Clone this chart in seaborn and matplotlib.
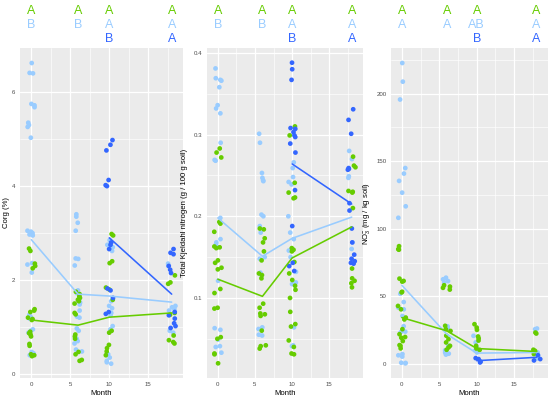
import numpy as np
import pandas as pd
import matplotlib
matplotlib.use("Agg")
import matplotlib.pyplot as plt
import matplotlib.transforms as mtransforms
from matplotlib.ticker import AutoMinorLocator, FixedLocator
import seaborn as sns

np.random.seed(3)

# ---------------- data ----------------
months = [0, 6, 10, 18]
groups = ["light", "green", "blue"]
colors = {"light": "#99CCFF", "green": "#66CC00", "blue": "#3366FF"}

# Corg (%)
corg_light_m0 = [6.62, 6.40, 6.41, 5.75, 5.72, 5.68, 5.35, 5.30, 5.26, 5.03, 3.05, 3.03, 3.00, 2.97, 2.95,
                 2.36, 2.33, 2.16, 1.26, 1.22, 1.18, 0.95, 0.92, 0.88, 0.47, 0.44, 0.40]
corg_green_m0 = [2.67, 2.62, 2.35, 2.30, 2.25, 1.38, 1.35, 1.32, 1.20, 1.17, 1.15, 0.90, 0.87, 0.84, 0.80,
                 0.64, 0.60, 0.42, 0.40, 0.38]
corg_light_m6 = [3.40, 3.35, 3.22, 3.05, 2.46, 2.45, 2.31, 1.78, 1.72, 1.62, 1.52, 1.48, 1.35, 1.22, 1.20,
                 0.97, 0.92, 0.75, 0.70, 0.65, 0.52, 0.48]
corg_green_m6 = [1.75, 1.70, 1.65, 1.62, 1.58, 1.55, 1.50, 1.30, 1.27, 0.84, 0.80, 0.75, 0.47, 0.42, 0.30, 0.28]
corg_light_m10 = [2.85, 2.80, 2.75, 2.70, 2.62, 1.55, 1.45, 1.40, 1.30, 1.25, 1.02, 0.95, 0.42, 0.35, 0.28,
                  0.25, 0.22]
corg_green_m10 = [2.98, 2.95, 2.40, 2.36, 1.84, 1.80, 1.58, 0.92, 0.88, 0.62, 0.55, 0.48, 0.40]
corg_blue_m10 = [4.98, 4.88, 4.76, 4.13, 4.02, 4.00, 2.80, 2.75, 2.66, 1.82, 1.78, 1.62, 1.32, 1.28]
corg_light_m18 = [2.35, 2.30, 1.45, 1.42, 1.38, 1.35, 0.92, 0.88]
corg_green_m18 = [2.10, 1.95, 1.92, 1.30, 1.26, 0.82, 0.72, 0.68, 0.65]
corg_blue_m18 = [2.66, 2.58, 2.55, 2.30, 2.22, 2.15, 1.32, 1.25, 1.18, 1.08, 1.02, 0.98]
corg_line_light = [2.86, 1.70, 1.66, 1.53]
corg_line_green = [1.15, 1.04, 1.21, 1.30]
corg_line_blue = [2.90, 1.70]

# Total Kjeldahl nitrogen
tkn_light_m0 = [0.381, 0.369, 0.367, 0.366, 0.358, 0.336, 0.332, 0.326, 0.290, 0.269, 0.268, 0.198, 0.172,
                0.168, 0.166, 0.162, 0.121, 0.063, 0.061, 0.049, 0.041, 0.040, 0.033]
tkn_green_m0 = [0.283, 0.278, 0.272, 0.193, 0.191, 0.181, 0.163, 0.162, 0.161, 0.146, 0.143, 0.137, 0.135,
                0.111, 0.106, 0.088, 0.087, 0.052, 0.050, 0.032, 0.031, 0.020]
tkn_light_m6 = [0.301, 0.290, 0.253, 0.247, 0.244, 0.243, 0.202, 0.200, 0.188, 0.180, 0.150, 0.148, 0.131,
                0.129, 0.064, 0.062, 0.055, 0.054]
tkn_green_m6 = [0.185, 0.184, 0.173, 0.168, 0.157, 0.146, 0.130, 0.128, 0.124, 0.093, 0.088, 0.081, 0.080,
                0.078, 0.060, 0.042, 0.041, 0.038]
tkn_light_m10 = [0.266, 0.259, 0.248, 0.242, 0.239, 0.200, 0.180, 0.172, 0.158, 0.150, 0.132, 0.119, 0.117,
                 0.064, 0.042, 0.041]
tkn_green_m10 = [0.310, 0.299, 0.241, 0.229, 0.223, 0.222, 0.161, 0.159, 0.157, 0.144, 0.130, 0.122, 0.115,
                 0.110, 0.100, 0.083, 0.068, 0.065, 0.048, 0.040, 0.032, 0.031]
tkn_blue_m10 = [0.388, 0.380, 0.367, 0.308, 0.307, 0.303, 0.299, 0.297, 0.289, 0.278, 0.232, 0.188, 0.143,
                0.139, 0.133]
tkn_light_m18 = [0.280, 0.270, 0.249, 0.247, 0.168, 0.160]
tkn_green_m18 = [0.273, 0.262, 0.260, 0.231, 0.230, 0.229, 0.210, 0.136, 0.124, 0.121, 0.118, 0.113]
tkn_blue_m18 = [0.331, 0.318, 0.301, 0.259, 0.258, 0.257, 0.216, 0.207, 0.185, 0.168, 0.153, 0.148, 0.145,
                0.143, 0.142]
tkn_line_light = [0.198, 0.151, 0.173, 0.199]
tkn_line_green = [0.123, 0.102, 0.149, 0.187]
tkn_line_blue = [0.264, 0.215]

# NO3- (mg / kg soil)
no3_light_m0 = [222.7, 208.9, 195.7, 145.0, 140.9, 135.5, 126.8, 116.7, 108.2, 52.0, 45.9, 41.8, 40.5, 35.6,
                28.0, 24.6, 24.0, 23.5, 7.4, 6.5, 5.5, 1.0, 0.8, 0.6]
no3_green_m0 = [87.2, 85.0, 84.6, 63.2, 61.5, 61.0, 53.5, 53.0, 43.0, 40.5, 34.4, 33.0, 25.8, 22.1, 20.0,
                19.5, 17.0, 14.0, 13.5, 11.6]
no3_light_m6 = [63.9, 62.7, 61.4, 60.5, 27.9, 26.5, 13.5, 10.2, 8.5, 7.7, 7.0]
no3_green_m6 = [58.3, 57.3, 56.4, 55.1, 28.3, 25.8, 24.5, 21.0, 18.4, 16.0, 13.5, 12.3, 10.6]
no3_light_m10 = [20.9, 16.0, 12.3, 10.0, 8.6]
no3_green_m10 = [29.5, 27.0, 25.3, 20.4, 19.0, 17.4, 13.5, 11.5, 10.5]
no3_blue_m10 = [4.4, 3.7, 1.8, 1.2]
no3_light_m18 = [26.3, 25.8, 8.6, 6.1, 4.2]
no3_green_m18 = [23.3, 22.6, 10.6, 9.8, 7.4]
no3_blue_m18 = [6.6, 3.7, 2.7]
no3_line_light = [58.3, 22.1, 8.1, 8.6]
no3_line_green = [34.4, 24.6, 11.5, 9.3]
no3_line_blue = [2.5, 5.0]

blue_months = [10, 18]

# significance letters: rows (green, light, blue) per month
letters_corg = {"green": ["A", "A", "A", "A"], "light": ["B", "B", "A", "A"], "blue": ["", "", "B", "A"]}
letters_tkn = {"green": ["A", "A", "A", "A"], "light": ["B", "B", "A", "A"], "blue": ["", "", "B", "A"]}
letters_no3 = {"green": ["A", "A", "A", "A"], "light": ["A", "A", "AB", "A"], "blue": ["", "", "B", "A"]}

ylabels = ["Corg (%)", "Total Kjeldahl nitrogen (g / 100 g soil)", "NO$_3^{-}$ (mg / kg soil)"]


def build(points):
    rows = []
    for (grp, m), vals in points.items():
        for v in vals:
            rows.append({"Month": m, "value": v, "group": grp})
    return pd.DataFrame(rows)


df_corg = build({("light", 0): corg_light_m0, ("green", 0): corg_green_m0,
                 ("light", 6): corg_light_m6, ("green", 6): corg_green_m6,
                 ("light", 10): corg_light_m10, ("green", 10): corg_green_m10, ("blue", 10): corg_blue_m10,
                 ("light", 18): corg_light_m18, ("green", 18): corg_green_m18, ("blue", 18): corg_blue_m18})
df_tkn = build({("light", 0): tkn_light_m0, ("green", 0): tkn_green_m0,
                ("light", 6): tkn_light_m6, ("green", 6): tkn_green_m6,
                ("light", 10): tkn_light_m10, ("green", 10): tkn_green_m10, ("blue", 10): tkn_blue_m10,
                ("light", 18): tkn_light_m18, ("green", 18): tkn_green_m18, ("blue", 18): tkn_blue_m18})
df_no3 = build({("light", 0): no3_light_m0, ("green", 0): no3_green_m0,
                ("light", 6): no3_light_m6, ("green", 6): no3_green_m6,
                ("light", 10): no3_light_m10, ("green", 10): no3_green_m10, ("blue", 10): no3_blue_m10,
                ("light", 18): no3_light_m18, ("green", 18): no3_green_m18, ("blue", 18): no3_blue_m18})

lines = [
    {"light": corg_line_light, "green": corg_line_green, "blue": corg_line_blue},
    {"light": tkn_line_light, "green": tkn_line_green, "blue": tkn_line_blue},
    {"light": no3_line_light, "green": no3_line_green, "blue": no3_line_blue},
]
letters = [letters_corg, letters_tkn, letters_no3]
dfs = [df_corg, df_tkn, df_no3]

# ---------------- style ----------------
sns.set_theme(style="darkgrid")
plt.rcParams["font.family"] = ["Liberation Sans", "DejaVu Sans"]
plt.rcParams["mathtext.default"] = "regular"
plt.rcParams["axes.facecolor"] = "#EBEBEB"

fig = plt.figure(figsize=(5.5, 3.99), dpi=100)
W, H = 550, 399
boxes = [(20, 183), (207, 362.5), (391, 547.5)]
top_px, bot_px = 48, 378
ylims = [(-0.085, 6.94), (0.002, 0.406), (-10.3, 233.8)]
yticks = [[0, 2, 4, 6], [0.1, 0.2, 0.3, 0.4], [0, 50, 100, 150, 200]]
ylabel_x = [-0.063, -0.125, -0.122]
row_y = [1 - 10.5 / H, 1 - 25 / H, 1 - 39.5 / H]

for i in range(3):
    l, r = boxes[i]
    ax = fig.add_axes([l / W, 1 - bot_px / H, (r - l) / W, (bot_px - top_px) / H])
    ax.set_facecolor("#EBEBEB")
    ax.set_axisbelow(True)
    sns.stripplot(data=dfs[i], x="Month", y="value", hue="group", hue_order=groups,
                  palette=colors, native_scale=True, jitter=0.13, size=3.4, linewidth=0,
                  legend=False, ax=ax, zorder=3)
    for g in groups:
        mx = blue_months if g == "blue" else months
        sns.lineplot(x=mx, y=lines[i][g], color=colors[g], linewidth=1.15, ax=ax, zorder=4,
                     estimator=None)
    ax.set_xlim(-1.45, 19.45)
    ax.set_ylim(*ylims[i])
    ax.xaxis.set_major_locator(FixedLocator([0, 5, 10, 15]))
    ax.yaxis.set_major_locator(FixedLocator(yticks[i]))
    ax.xaxis.set_minor_locator(AutoMinorLocator(2))
    ax.yaxis.set_minor_locator(AutoMinorLocator(2))
    ax.grid(which="major", color="white", linewidth=0.9)
    ax.grid(which="minor", color="white", linewidth=0.45)
    for s in ax.spines.values():
        s.set_visible(False)
    ax.tick_params(which="major", length=2, width=0.5, color="#333333", labelsize=4.4,
                   labelcolor="#4D4D4D", pad=1.2)
    ax.tick_params(which="minor", length=0)
    ax.set_xlabel("Month", fontsize=5.6, color="black", labelpad=1.5)
    ax.set_ylabel(ylabels[i], fontsize=5.6, color="black")
    ax.yaxis.set_label_coords(ylabel_x[i], 0.5)

    trans = mtransforms.blended_transform_factory(ax.transData, fig.transFigure)
    for row, g in enumerate(["green", "light", "blue"]):
        for m, txt in zip(months, letters[i][g]):
            if txt:
                ax.text(m, row_y[row], txt, transform=trans, ha="center", va="center",
                        fontsize=9, color=colors[g], clip_on=False)

fig.savefig("out.png", dpi=100)
